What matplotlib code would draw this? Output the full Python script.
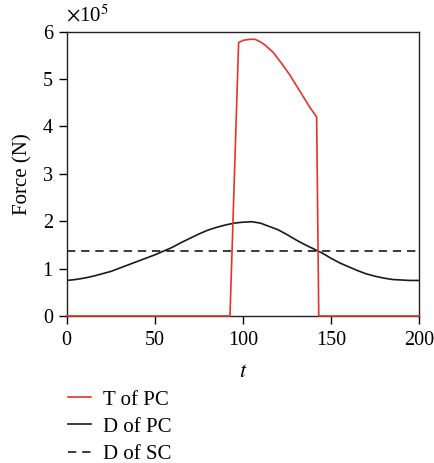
import matplotlib
matplotlib.use("Agg")
import matplotlib.pyplot as plt
from matplotlib.lines import Line2D

# D of PC (x1e5 N)
t_d = [0, 5, 10, 15, 20, 25, 30, 35, 40, 45, 50, 55, 60, 65, 70, 75, 80, 85, 90, 95, 100,
       105, 110, 115, 120, 125, 130, 135, 140, 145, 150, 155, 160, 165, 170, 175, 180, 185, 190, 195, 200]
d_pc = [0.75, 0.77, 0.80, 0.84, 0.89, 0.94, 1.01, 1.08, 1.15, 1.22, 1.29, 1.37, 1.45, 1.55, 1.64, 1.73, 1.81, 1.87, 1.92, 1.96, 1.98,
        1.99, 1.96, 1.89, 1.82, 1.72, 1.61, 1.51, 1.42, 1.33, 1.22, 1.12, 1.04, 0.96, 0.89, 0.84, 0.80, 0.77, 0.76, 0.75, 0.75]

# T of PC (x1e5 N)
t_t = [0, 92.7, 97.6, 100.3, 104.1, 106.9, 109.7, 112.6, 117.3, 122.0, 126.8, 130.6, 134.3, 138.1, 141.9, 143.1, 200]
t_pc = [0, 0, 5.77, 5.82, 5.84, 5.84, 5.79, 5.72, 5.56, 5.33, 5.08, 4.85, 4.63, 4.40, 4.20, 0, 0]

# D of SC
d_sc = 1.37

xticks = [0, 50, 100, 150, 200]
yticks = [0, 1, 2, 3, 4, 5, 6]
labels = ['T of PC', 'D of PC', 'D of SC']

plt.rcParams['font.family'] = ['Liberation Serif', 'DejaVu Serif']
plt.rcParams['mathtext.fontset'] = 'stix'

fig = plt.figure(figsize=(4.34, 4.63), dpi=100)
ax = fig.add_axes([0.1537, 0.3175, 0.8117, 0.614])

red = '#e5332a'
dash = (0, (5, 3.5))
ax.plot(t_t, t_pc, color=red, lw=1.2, zorder=3, clip_on=False)
ax.plot(t_d, d_pc, color='#1a1a1a', lw=1.2, zorder=2)
ax.axhline(d_sc, color='#1a1a1a', lw=1.2, ls=dash, zorder=2)

ax.set_xlim(0, 200)
ax.set_ylim(0, 6)
ax.set_xticks(xticks)
ax.set_yticks(yticks)
ax.tick_params(direction='out', length=5.5, width=1, labelsize=14.5)
ax.tick_params(axis='x', pad=5.5)
ax.tick_params(axis='y', pad=4.5)
for s in ax.spines.values():
    s.set_linewidth(1)
    s.set_color('#222222')

ax.set_xlabel('$t$', fontsize=16, labelpad=9)
ax.set_ylabel('Force (N)', fontsize=15, labelpad=7)
fig.text(0.153, 1 - 21 / 463, r'$\times$10$^5$', fontsize=15, ha='left', va='baseline')

handles = [Line2D([], [], color=red, lw=1.2),
           Line2D([], [], color='#1a1a1a', lw=1.2),
           Line2D([], [], color='#1a1a1a', lw=1.2, ls=dash)]
fig.legend(handles, labels, loc='upper left',
           bbox_to_anchor=(0.1366, 0.1755), frameon=False, fontsize=15,
           handlelength=1.1, handletextpad=0.58, labelspacing=0.36, borderaxespad=0)

fig.savefig('out.png', dpi=100)
